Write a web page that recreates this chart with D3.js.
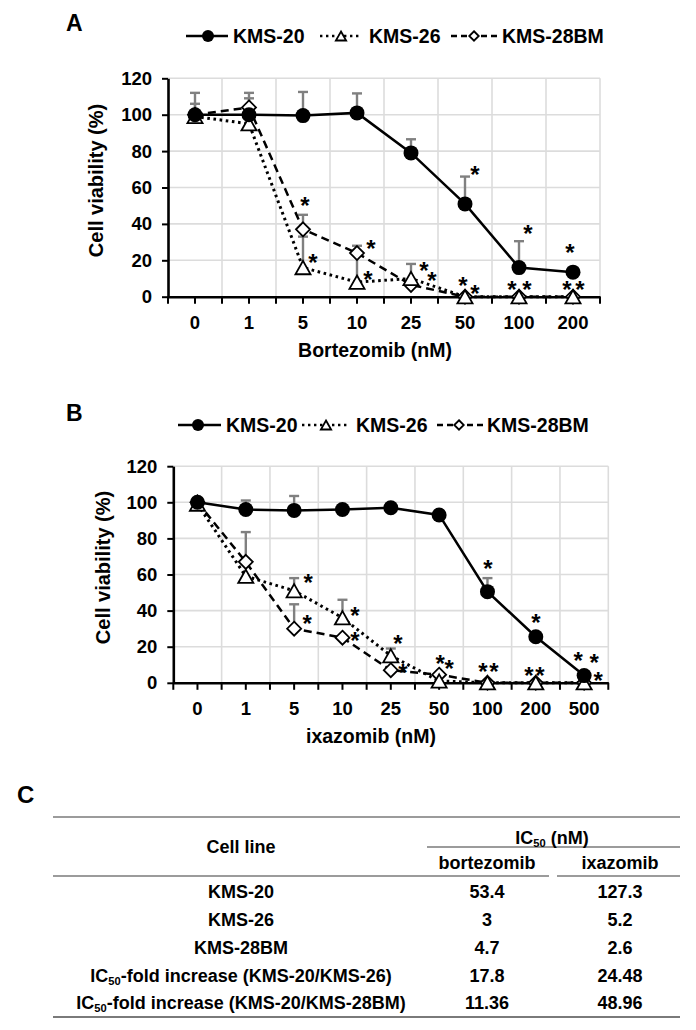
<!DOCTYPE html>
<html><head><meta charset="utf-8">
<script src="https://cdn.jsdelivr.net/npm/d3@7/dist/d3.min.js"></script>
<style>
body{margin:0;background:#fff}
svg{display:block}
text{font-family:"Liberation Sans",Arial,Helvetica,sans-serif;font-weight:bold;fill:#000}
</style>
</head><body>
<svg id="c" width="696" height="1030"></svg>
<script>
// ---------- DATA ----------
const seriesNames = ["KMS-20", "KMS-26", "KMS-28BM"];
const yTicks = [0, 20, 40, 60, 80, 100, 120];

// Panel A: bortezomib
const catsA = ["0", "1", "5", "10", "25", "50", "100", "200"];
const a20 = [100, 100, 99.5, 101, 79, 51, 16, 13.5];
const a20err = [12, 0, 13, 10.7, 7.5, 15, 14.5, 0];
const a26 = [99, 95, 16, 8, 10, 0, 0, 0];
const a26err = [7, 14, 17, 15, 8, 0, 0, 0];
const a28 = [100, 104, 37, 24, 6.5, 0, 0, 0];
const a28err = [0, 8, 8, 4, 0, 0, 0, 0];
// significance asterisks: [category, value level, x offset]
const starsA = [["5",53,2],["5",22,10],["10",29.5,14],["10",12.5,11],["25",17.4,13],["25",12,21],
  ["50",70,10],["50",9.2,-2],["50",5,10],["100",37.5,9],["100",7,-7],["100",7,8],
  ["200",27.5,-3],["200",7,-6],["200",7,7]];

// Panel B: ixazomib
const catsB = ["0", "1", "5", "10", "25", "50", "100", "200", "500"];
const b20 = [100, 96, 95.5, 96, 97, 93, 50.5, 25.5, 4];
const b20err = [0, 5, 8, 0, 0, 0, 7.5, 0, 0];
const b26 = [99, 59, 51, 36, 15, 1, 0, 0, 0];
const b26err = [0, 0, 7, 10, 4, 0, 0, 0, 0];
const b28 = [100, 67, 30, 25, 7, 4.5, 0, 0, 0];
const b28err = [0, 16.5, 13.5, 0, 0, 0, 0, 0, 0];
const starsB = [["5",58.8,14],["5",36,13],["10",40.3,12.5],["10",26.5,12.5],["25",24.8,7],["25",8.8,12],
  ["50",14,1],["50",11,10],["100",66.4,0.5],["100",9.5,-4.5],["100",9.5,6.5],
  ["200",36.5,0],["200",7,-7],["200",7,4],["500",15.4,-6],["500",14.3,10],["500",4.3,14]];

// Panel C: table
const tableRows = ["KMS-20", "KMS-26", "KMS-28BM", "IC50-fold increase (KMS-20/KMS-26)", "IC50-fold increase (KMS-20/KMS-28BM)"];
const ic50Bortezomib = ["53.4", "3", "4.7", "17.8", "11.36"];
const ic50Ixazomib = ["127.3", "5.2", "2.6", "24.48", "48.96"];

// ---------- DRAW ----------
const svg = d3.select("#c");
const GRID = "#dcdcdc", ERR = "#808080";

function markerPath(type, s) {
  if (type === "tri") {
    const w = s * 1.08, h = s * 0.95;
    return `M0,${-h/2}L${w/2},${h/2}L${-w/2},${h/2}Z`;
  }
  if (type === "dia") {
    const r = s / 2;
    return `M0,${-r}L${r},0L0,${r}L${-r},0Z`;
  }
  return null;
}
function drawMarker(g, type, x, y, s) {
  if (type === "circ") {
    g.append("circle").attr("cx", x).attr("cy", y).attr("r", s / 2).attr("fill", "#000");
  } else {
    g.append("path").attr("d", markerPath(type, s)).attr("transform", `translate(${x},${y})`)
      .attr("fill", "#fff").attr("stroke", "#000").attr("stroke-width", 1.8).attr("stroke-linejoin", "miter");
  }
}
const styles = [
  {type: "circ", dash: null, w: 2.5, cap: "butt"},
  {type: "tri", dash: "2.6,3.6", w: 3, cap: "butt"},
  {type: "dia", dash: "8,5", w: 2.5, cap: "butt"}
];

function chart(cfg) {
  const g = svg.append("g");
  const x = d3.scaleBand().domain(cfg.cats).range([cfg.x0, cfg.x1]).paddingInner(0).paddingOuter(0);
  const y = d3.scaleLinear().domain([0, 120]).range([cfg.yb, cfg.yt]);
  const bw = x.bandwidth();
  const cx = c => x(c) + bw / 2;

  // gridlines
  g.append("g").selectAll("line").data(yTicks.filter(d => d > 0)).join("line")
    .attr("x1", cfg.x0).attr("x2", cfg.x1).attr("y1", d => y(d)).attr("y2", d => y(d))
    .attr("stroke", GRID).attr("stroke-width", 1.6);
  g.append("g").selectAll("line").data(cfg.cats.slice(1).concat(["__end"])).join("line")
    .attr("x1", d => d === "__end" ? cfg.x1 : x(d)).attr("x2", d => d === "__end" ? cfg.x1 : x(d))
    .attr("y1", y(0)).attr("y2", y(120))
    .attr("stroke", GRID).attr("stroke-width", 1.6);

  // axes
  const xa = g.append("g").attr("transform", `translate(0,${y(0)})`)
    .call(d3.axisBottom(x).tickSize(7).tickSizeOuter(0).tickPadding(12));
  xa.select(".domain").attr("stroke-width", 2.6);
  xa.selectAll(".tick line").attr("stroke-width", 2);
  xa.selectAll("text").attr("font-size", 18.5);
  xa.append("g").selectAll("line").data(d3.range(cfg.cats.length + 1)).join("line")
    .attr("x1", i => cfg.x0 + i * bw).attr("x2", i => cfg.x0 + i * bw)
    .attr("y1", 0).attr("y2", 7).attr("stroke", "#000").attr("stroke-width", 2);
  xa.attr("font-family", null);

  const ya = g.append("g").attr("transform", `translate(${cfg.x0},0)`)
    .call(d3.axisLeft(y).tickValues(yTicks).tickSize(6).tickSizeOuter(0).tickPadding(10));
  ya.select(".domain").attr("stroke-width", 2.6);
  ya.selectAll(".tick line").attr("stroke-width", 2);
  ya.selectAll("text").attr("font-size", 18.5);
  ya.attr("font-family", null);

  // titles
  g.append("text").attr("x", cfg.xTitleX).attr("y", y(0) + 60).attr("text-anchor", "middle")
    .attr("font-size", 19.5).text(cfg.xTitle);
  g.append("text").attr("transform", `translate(${cfg.yTitleX},${(y(0) + y(120)) / 2 - 7}) rotate(-90)`)
    .attr("text-anchor", "middle").attr("dy", "0.35em").attr("font-size", 20).text("Cell viability (%)");

  // error bars
  cfg.series.forEach((s) => {
    s.vals.forEach((v, i) => {
      const e = s.errs[i];
      if (!e) return;
      const px = cx(cfg.cats[i]);
      g.append("line").attr("x1", px).attr("x2", px).attr("y1", y(v)).attr("y2", y(v + e))
        .attr("stroke", ERR).attr("stroke-width", 2.4);
      g.append("line").attr("x1", px - 5).attr("x2", px + 5).attr("y1", y(v + e)).attr("y2", y(v + e))
        .attr("stroke", ERR).attr("stroke-width", 2.4);
    });
  });
  // lines
  cfg.series.forEach((s, k) => {
    const st = styles[k];
    g.append("path").datum(s.vals)
      .attr("d", d3.line().x((d, i) => cx(cfg.cats[i])).y(d => y(d)))
      .attr("fill", "none").attr("stroke", "#000").attr("stroke-width", st.w)
      .attr("stroke-dasharray", st.dash).attr("stroke-linecap", st.cap);
  });
  // markers
  [2, 1, 0].forEach(k => {
    const s = cfg.series[k];
    s.vals.forEach((v, i) => drawMarker(g, styles[k].type, cx(cfg.cats[i]), y(v), k === 0 ? 15 : 14));
  });
  // asterisks
  cfg.stars.forEach(([c, v, dx]) => {
    g.append("text").attr("x", cx(c) + dx).attr("y", y(v) + 14).attr("text-anchor", "middle")
      .attr("font-size", 24).text("*");
  });

  // legend
  const L = cfg.legend;
  seriesNames.forEach((name, k) => {
    const it = L[k];
    const st = styles[k];
    g.append("line").attr("x1", it.l0).attr("x2", it.l1).attr("y1", L.y).attr("y2", L.y)
      .attr("stroke", "#000").attr("stroke-width", k === 0 ? 2.5 : 2.4)
      .attr("stroke-dasharray", k === 1 ? "2.4,3.6" : (k === 2 ? "6,4" : null));
    drawMarker(g, st.type, it.m, L.y, k === 0 ? 12 : 9.5);
    g.append("text").attr("x", it.t).attr("y", L.y).attr("dy", "0.36em").attr("font-size", 19.5).text(name);
  });

  // panel letter
  g.append("text").attr("x", cfg.letterX).attr("y", cfg.letterY).attr("font-size", 23).text(cfg.letter);
}

chart({
  cats: catsA, x0: 168, x1: 600, yt: 78.3, yb: 296.7,
  series: [{vals: a20, errs: a20err}, {vals: a26, errs: a26err}, {vals: a28, errs: a28err}],
  stars: starsA, xTitle: "Bortezomib (nM)", xTitleX: 375, yTitleX: 96,
  legend: {y: 36, 0: {l0: 186, l1: 228, m: 208, t: 233}, 1: {l0: 320, l1: 362, m: 341, t: 369}, 2: {l0: 451, l1: 498, m: 474, t: 502}},
  letter: "A", letterX: 66, letterY: 31
});
chart({
  cats: catsB, x0: 173.3, x1: 608.3, yt: 466.2, yb: 682.8,
  series: [{vals: b20, errs: b20err}, {vals: b26, errs: b26err}, {vals: b28, errs: b28err}],
  stars: starsB, xTitle: "ixazomib (nM)", xTitleX: 371, yTitleX: 103,
  legend: {y: 425, 0: {l0: 178, l1: 221, m: 198, t: 226}, 1: {l0: 302, l1: 349, m: 326, t: 356}, 2: {l0: 437, l1: 484, m: 459, t: 487}},
  letter: "B", letterX: 66, letterY: 421
});

// ---------- TABLE C ----------
const T = svg.append("g");
T.append("text").attr("x", 17).attr("y", 803).attr("font-size", 24).attr("font-family", "'Open Sans',sans-serif").text("C");
const LINE = "#7a7a7a";
const hl = (x1, x2, yy, w) => T.append("line").attr("x1", x1).attr("x2", x2).attr("y1", yy).attr("y2", yy)
  .attr("stroke", LINE).attr("stroke-width", w);
hl(53, 680, 817, 1.6);
hl(427, 680, 847, 1.4);
hl(53, 549, 876, 1.4);
hl(557, 680, 876, 1.4);
hl(53, 680, 1017, 2);

const colX = [241, 487, 620];
function ic50Text(sel, str, fs) {
  const m = str.match(/^IC50(.*)$/);
  if (!m) { sel.text(str); return; }
  sel.append("tspan").text("IC");
  sel.append("tspan").attr("font-size", fs * 0.62).attr("dy", 3).text("50");
  sel.append("tspan").attr("dy", -3).text(m[1]);
}
// headers
ic50Text(T.append("text").attr("x", 552).attr("y", 838).attr("dy", "0.36em").attr("text-anchor", "middle").attr("font-size", 18), "IC50 (nM)", 18);
T.append("text").attr("x", colX[0]).attr("y", 847).attr("dy", "0.36em").attr("text-anchor", "middle").attr("font-size", 18).text("Cell line");
T.append("text").attr("x", colX[1]).attr("y", 863).attr("dy", "0.36em").attr("text-anchor", "middle").attr("font-size", 18).attr("font-weight", "normal").text("bortezomib");
T.append("text").attr("x", colX[2]).attr("y", 863).attr("dy", "0.36em").attr("text-anchor", "middle").attr("font-size", 18).attr("font-weight", "normal").text("ixazomib");

const rowY = d3.scalePoint().domain(tableRows).range([892, 1003]);
tableRows.forEach((r, i) => {
  const yy = rowY(r);
  ic50Text(T.append("text").attr("x", colX[0]).attr("y", yy).attr("dy", "0.36em").attr("text-anchor", "middle").attr("font-size", 18), r, 18);
  T.append("text").attr("x", colX[1]).attr("y", yy).attr("dy", "0.36em").attr("text-anchor", "middle").attr("font-size", 18).text(ic50Bortezomib[i]);
  T.append("text").attr("x", colX[2]).attr("y", yy).attr("dy", "0.36em").attr("text-anchor", "middle").attr("font-size", 18).text(ic50Ixazomib[i]);
});
</script>
</body></html>
